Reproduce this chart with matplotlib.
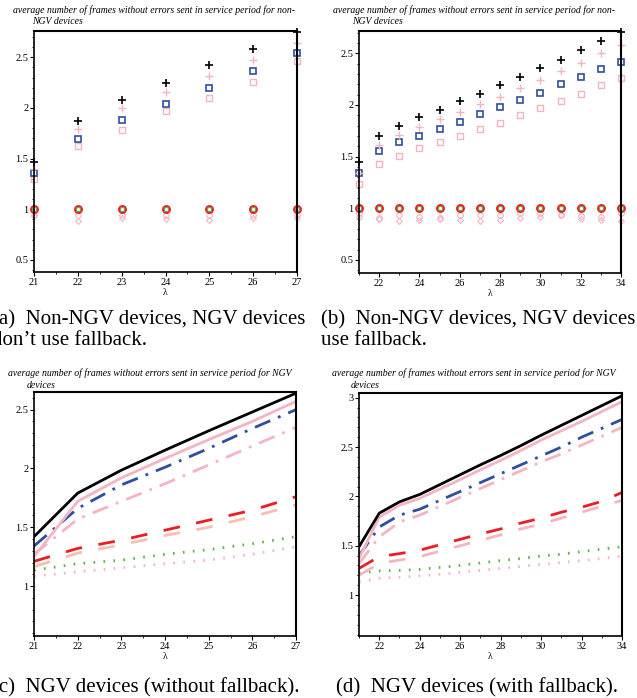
import numpy as np
import matplotlib
matplotlib.use("Agg")
import matplotlib.pyplot as plt
from matplotlib.ticker import MultipleLocator, AutoMinorLocator

plt.rcParams["font.family"] = ["Liberation Serif", "DejaVu Serif"]

# ---- data: non-NGV devices, NGV without fallback (a)
lam_a = [21, 22, 23, 24, 25, 26, 27]
a_black_plus = [1.47, 1.87, 2.08, 2.25, 2.42, 2.58, 2.75]
a_pink_plus = [1.40, 1.79, 2.00, 2.16, 2.32, 2.47, 2.64]
a_blue_sq = [1.36, 1.69, 1.88, 2.04, 2.20, 2.36, 2.54]
a_pink_sq = [1.30, 1.62, 1.78, 1.97, 2.10, 2.26, 2.46]
a_red_circ = [1.0, 1.0, 1.0, 1.0, 1.0, 1.0, 1.0]
a_green_circ = [1.0, 1.0, 1.0, 1.0, 1.0, 1.0, 1.0]
a_pink_circ = [0.94, 0.945, 0.945, 0.945, 0.945, 0.945, 0.945]
a_pink_diam = [0.93, 0.885, 0.915, 0.90, 0.89, 0.91, 0.915]

# ---- data: non-NGV devices, NGV with fallback (b)
lam_b = [21, 22, 23, 24, 25, 26, 27, 28, 29, 30, 31, 32, 33, 34]
b_black_plus = [1.45, 1.70, 1.80, 1.88, 1.955, 2.035, 2.11, 2.19, 2.27, 2.36, 2.44, 2.53, 2.62, 2.71]
b_pink_plus = [1.34, 1.61, 1.71, 1.79, 1.86, 1.93, 2.01, 2.08, 2.165, 2.245, 2.33, 2.41, 2.50, 2.58]
b_blue_sq = [1.345, 1.55, 1.64, 1.70, 1.77, 1.84, 1.91, 1.98, 2.05, 2.12, 2.20, 2.27, 2.35, 2.42]
b_pink_sq = [1.24, 1.43, 1.51, 1.58, 1.64, 1.70, 1.77, 1.83, 1.90, 1.97, 2.04, 2.11, 2.19, 2.26]
b_red_circ = [1.0] * 14
b_green_circ = [1.0] * 14
b_pink_circ = [0.95, 0.905, 0.94, 0.92, 0.905, 0.94, 0.94, 0.94, 0.955, 0.955, 0.94, 0.93, 0.915, 0.955]
b_pink_diam = [0.92, 0.90, 0.88, 0.89, 0.90, 0.885, 0.88, 0.89, 0.905, 0.92, 0.935, 0.90, 0.89, 0.88]

# ---- data: NGV devices without fallback (c)
c_black = [1.42, 1.79, 1.985, 2.155, 2.32, 2.48, 2.64]
c_pink = [1.25, 1.72, 1.92, 2.085, 2.245, 2.40, 2.57]
c_blue_dd = [1.34, 1.66, 1.86, 2.01, 2.17, 2.34, 2.50]
c_pink_dd = [1.27, 1.57, 1.72, 1.87, 2.03, 2.19, 2.35]
c_red_dash = [1.21, 1.32, 1.39, 1.475, 1.56, 1.645, 1.76]
c_peach_dash = [1.165, 1.28, 1.35, 1.43, 1.50, 1.59, 1.69]
c_green_dot = [1.135, 1.19, 1.22, 1.27, 1.31, 1.36, 1.42]
c_pink_dot = [1.085, 1.12, 1.155, 1.19, 1.22, 1.27, 1.335]

# ---- data: NGV devices with fallback (d)
d_black = [1.49, 1.83, 1.945, 2.02, 2.12, 2.22, 2.32, 2.415, 2.515, 2.62, 2.72, 2.82, 2.92, 3.02]
d_pink = [1.37, 1.79, 1.91, 1.98, 2.075, 2.17, 2.27, 2.365, 2.465, 2.57, 2.665, 2.76, 2.86, 2.96]
d_blue_dd = [1.40, 1.69, 1.81, 1.87, 1.96, 2.05, 2.14, 2.23, 2.32, 2.41, 2.50, 2.60, 2.69, 2.78]
d_pink_dd = [1.32, 1.59, 1.74, 1.81, 1.90, 1.99, 2.08, 2.17, 2.26, 2.35, 2.43, 2.52, 2.61, 2.70]
d_red_dash = [1.27, 1.39, 1.42, 1.455, 1.51, 1.565, 1.62, 1.67, 1.73, 1.78, 1.84, 1.89, 1.95, 2.04]
d_pink_dash = [1.20, 1.32, 1.355, 1.39, 1.445, 1.50, 1.555, 1.61, 1.67, 1.72, 1.78, 1.84, 1.90, 1.96]
d_green_dot = [1.22, 1.245, 1.25, 1.26, 1.28, 1.30, 1.325, 1.35, 1.37, 1.395, 1.415, 1.44, 1.465, 1.49]
d_pink_dot = [1.135, 1.17, 1.18, 1.195, 1.21, 1.23, 1.25, 1.27, 1.29, 1.31, 1.33, 1.35, 1.37, 1.395]

title_non = ("average number of frames without errors sent in service period for non-",
             "NGV devices")
title_ngv = ("average number of frames without errors sent in service period for NGV",
             "devices")
captions = [
    "(a)  Non-NGV devices, NGV devices\ndon\u2019t use fallback.",
    "(b)  Non-NGV devices, NGV devices\nuse fallback.",
    "(c)  NGV devices (without fallback).",
    "(d)  NGV devices (with fallback).",
]

BLACK = "#000000"
PINK = "#f6b3c1"
BLUE = "#2f4ea0"
RED = "#ec1c24"
GREEN = "#5cb445"
PEACH = "#f7bfae"


def style_axes(ax, xlim, ylim, xstep):
    ax.set_xlim(*xlim)
    ax.set_ylim(*ylim)
    ax.xaxis.set_major_locator(MultipleLocator(xstep))
    ax.yaxis.set_major_locator(MultipleLocator(0.5))
    ax.xaxis.set_minor_locator(AutoMinorLocator(2))
    ax.yaxis.set_minor_locator(AutoMinorLocator(5))
    ax.yaxis.set_major_formatter(plt.FuncFormatter(lambda v, p: f"{v:g}"))
    ax.tick_params(which="major", direction="out", length=3, width=0.8, labelsize=7.5, pad=1)
    ax.tick_params(which="minor", direction="out", length=1.5, width=0.6)
    for side in ["left", "bottom"]:
        ax.spines[side].set_linewidth(1.2)
    for side in ["top", "right"]:
        ax.spines[side].set_linewidth(1.5)
    ax.set_xlabel("\u03bb", fontsize=7, labelpad=1)


def scatter_panel(ax, lam, black_p, pink_p, blue_s, pink_s, red_c, green_c, pink_c, pink_d):
    ax.plot(lam, pink_d, "D", ms=3, mfc="none", mec=PINK, mew=0.8, clip_on=False)
    ax.plot(lam, pink_c, "o", ms=4, mfc="none", mec=PINK, mew=0.8, clip_on=False)
    ax.plot(lam, pink_s, "s", ms=5, mfc="none", mec=PINK, mew=1.0, clip_on=False)
    ax.plot(lam, blue_s, "s", ms=5, mfc="none", mec=BLUE, mew=1.2, clip_on=False)
    ax.plot(lam, pink_p, "+", ms=6, mec=PINK, mew=1.0, clip_on=False)
    ax.plot(lam, black_p, "+", ms=6, mec=BLACK, mew=1.2, clip_on=False)
    ax.plot(lam, red_c, "o", ms=5, mfc="none", mec=RED, mew=1.4, clip_on=False)
    ax.plot(lam, green_c, "o", ms=3, mfc="none", mec=GREEN, mew=0.8, clip_on=False)


def line_panel(ax, lam, black, pink, blue_dd, pink_dd, red_da, light_da, light_color, green_do, pink_do):
    ax.plot(lam, pink_do, color=PINK, lw=2, dashes=(0.6, 3.0))
    ax.plot(lam, green_do, color=GREEN, lw=2, dashes=(0.6, 3.0))
    ax.plot(lam, light_da, color=light_color, lw=2, dashes=(6, 6))
    ax.plot(lam, red_da, color=RED, lw=2, dashes=(6, 6))
    ax.plot(lam, pink_dd, color=PINK, lw=2, dashes=(6, 3, 1, 3))
    ax.plot(lam, blue_dd, color=BLUE, lw=2, dashes=(6, 3, 1, 3))
    ax.plot(lam, pink, color=PINK, lw=2)
    ax.plot(lam, black, color=BLACK, lw=2)


def add_title(fig, x0, y0, lines):
    kw = dict(fontsize=7, style="italic", ha="left", va="center")
    fig.text(x0 / 637, 1 - y0 / 698, lines[0], **kw)
    fig.text((x0 + 19) / 637, 1 - (y0 + 12) / 698, lines[1], **kw)


fig = plt.figure(figsize=(6.37, 6.98), dpi=100)

ax_a = fig.add_axes([0.0534, 0.6103, 0.4129, 0.3453])
ax_b = fig.add_axes([0.5636, 0.6089, 0.4113, 0.3467])
ax_c = fig.add_axes([0.0534, 0.0888, 0.4113, 0.3496])
ax_d = fig.add_axes([0.5636, 0.0888, 0.4129, 0.3480])

scatter_panel(ax_a, lam_a, a_black_plus, a_pink_plus, a_blue_sq, a_pink_sq,
              a_red_circ, a_green_circ, a_pink_circ, a_pink_diam)
style_axes(ax_a, (21, 27), (0.38, 2.76), 1)

scatter_panel(ax_b, lam_b, b_black_plus, b_pink_plus, b_blue_sq, b_pink_sq,
              b_red_circ, b_green_circ, b_pink_circ, b_pink_diam)
style_axes(ax_b, (21, 34), (0.374, 2.716), 2)

line_panel(ax_c, lam_a, c_black, c_pink, c_blue_dd, c_pink_dd, c_red_dash,
           c_peach_dash, PEACH, c_green_dot, c_pink_dot)
style_axes(ax_c, (21, 27), (0.575, 2.65), 1)

line_panel(ax_d, lam_b, d_black, d_pink, d_blue_dd, d_pink_dd, d_red_dash,
           d_pink_dash, PINK, d_green_dot, d_pink_dot)
style_axes(ax_d, (21, 34), (0.585, 3.047), 2)

# italic titles above each panel
add_title(fig, 13, 10, title_non)
add_title(fig, 333, 10, title_non)
add_title(fig, 8, 373, title_ngv)
add_title(fig, 332, 373, title_ngv)

# sub-figure captions
cap_kw = dict(fontsize=15, ha="left", va="top", linespacing=1.12)
fig.text(-8 / 637, 1 - 310 / 698, captions[0], **cap_kw)
fig.text(321 / 637, 1 - 310 / 698, captions[1], **cap_kw)
fig.text(-8 / 637, 1 - 678 / 698, captions[2], **cap_kw)
fig.text(336 / 637, 1 - 678 / 698, captions[3], **cap_kw)

fig.savefig("out.png", dpi=100)
